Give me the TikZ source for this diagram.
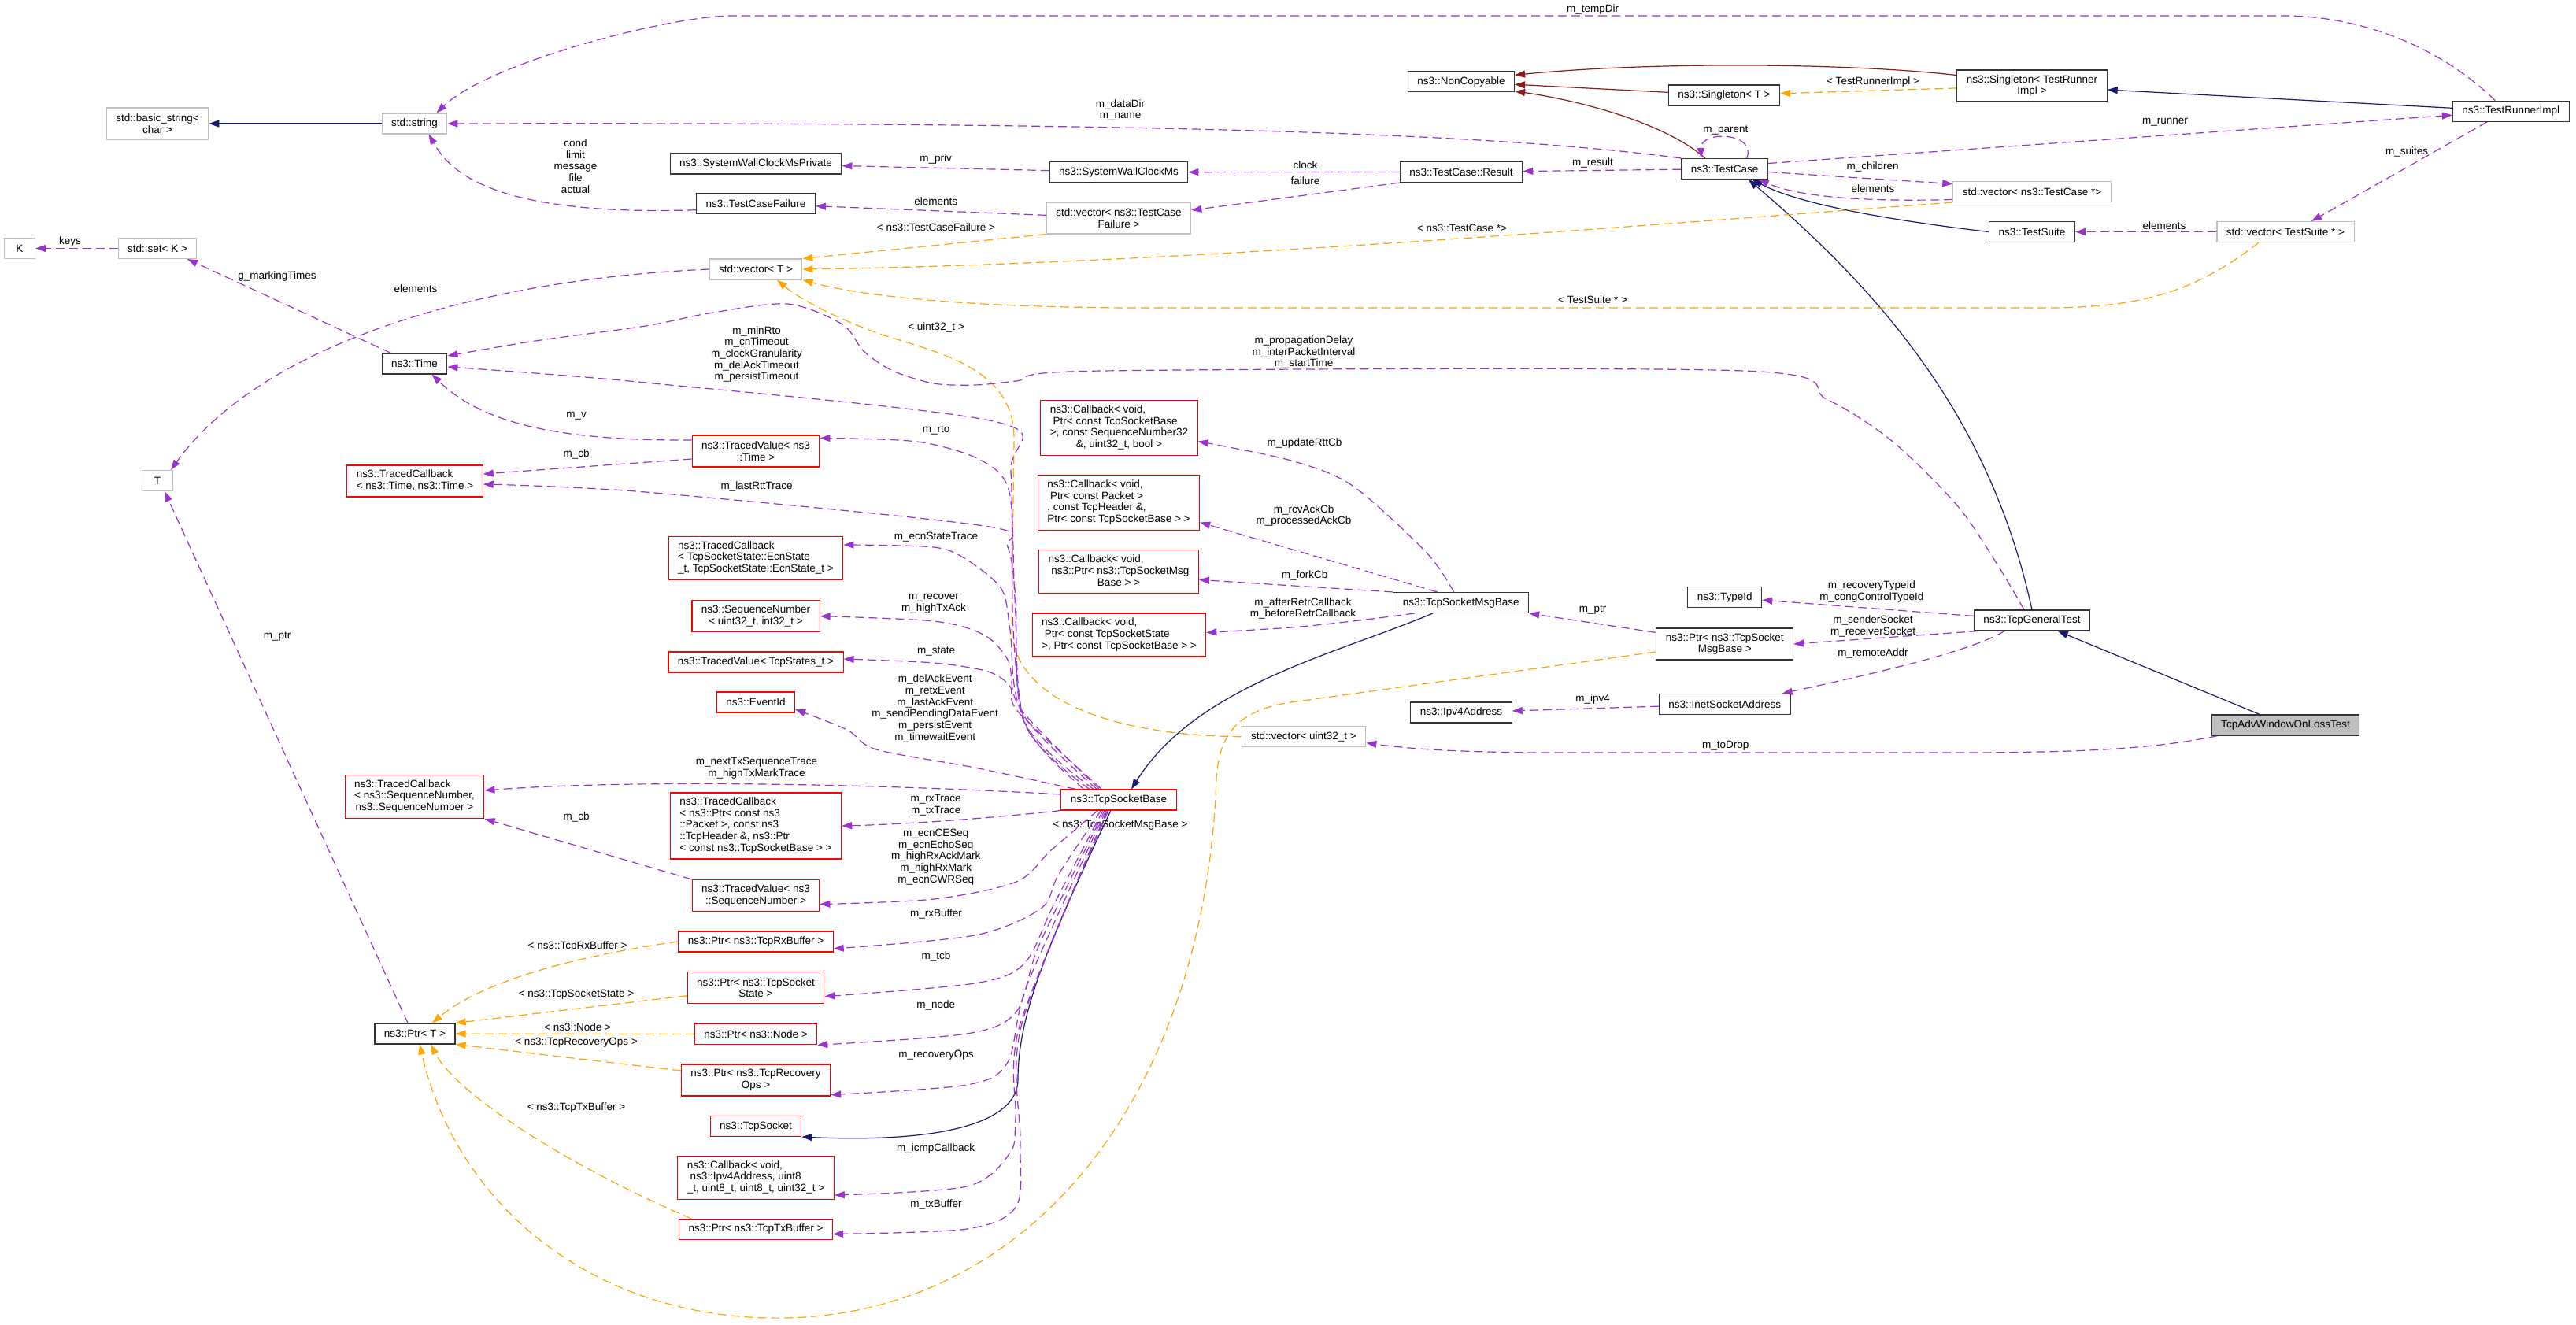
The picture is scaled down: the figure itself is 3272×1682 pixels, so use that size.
\documentclass[tikz,border=0pt]{standalone}
\usepackage{fontspec}
\setmainfont{Liberation Sans}
\usetikzlibrary{arrows.meta,backgrounds}
\definecolor{usecol}{HTML}{9A32CD}
\definecolor{tmplcol}{HTML}{FFA500}
\definecolor{inhcol}{HTML}{191970}
\definecolor{privcol}{HTML}{8B1A1A}
\definecolor{graybox}{HTML}{BFBFBF}
\newcommand{\leftlines}[1]{\begin{tabular}{@{}l@{}}#1\end{tabular}}
\newcommand{\midline}[1]{\multicolumn{1}{@{}c@{}}{#1}}

\begin{document}
\begin{tikzpicture}[x=1pt, y=-1pt,
  cls/.style={rectangle, draw=black!80, line width=1.1pt, fill=white, inner xsep=12pt, inner ysep=2pt,
              minimum height=26pt, font=\fontsize{13.5}{14.7}\selectfont, align=center},
  ext/.style={cls, draw=graybox},
  undoc/.style={cls, draw=red},
  focus/.style={cls, fill=graybox},
  h2/.style={minimum height=40pt},
  h3/.style={minimum height=55pt},
  h4/.style={minimum height=70pt},
  h5/.style={minimum height=84pt},
  lbl/.style={font=\fontsize{13.5}{14.7}\selectfont, align=center, inner sep=0pt},
  usage/.style={usecol, dash pattern=on 11pt off 6pt, line width=1.2pt, -{Triangle[length=13pt,width=9pt]}},
  tmplarrow/.style={usage, tmplcol},
  inherit/.style={inhcol, line width=1.2pt, -{Triangle[length=13pt,width=9pt]}},
  privinh/.style={inherit, privcol},
]
  \useasboundingbox (0,0) rectangle (3272,1682);

  % left columns
  \node[ext, h2] (bstr) at (200,157) {std::basic\_string<\\char >};
  \node[ext] (str) at (526.5,157) {std::string};
  \node[ext, minimum width=39pt] (nk) at (25,315.5) {K};
  \node[ext] (setk) at (200,315.5) {std::set< K >};
  \node[cls] (time) at (526.5,462) {ns3::Time};
  \node[ext, minimum width=39pt] (tt) at (200,610.5) {T};
  \node[undoc, h2] (tcbtime) at (527,611) {\leftlines{ns3::TracedCallback\\\midline{< ns3::Time, ns3::Time >}}};
  \node[undoc, h3] (tcbseq) at (526.5,1012) {\leftlines{ns3::TracedCallback\\< ns3::SequenceNumber,\\\midline{ns3::SequenceNumber >}}};
  \node[cls] (ptrt) at (527,1313) {ns3::Ptr< T >};

  % members of the socket
  \node[cls] (wcpriv) at (960,208) {ns3::SystemWallClockMsPrivate};
  \node[cls] (tcf) at (960,258.7) {ns3::TestCaseFailure};
  \node[ext] (vect) at (960,342) {std::vector< T >};
  \node[undoc, h2] (tvtime) at (960,573) {ns3::TracedValue< ns3\\::Time >};
  \node[undoc, h3] (tcbecn) at (960,709) {\leftlines{ns3::TracedCallback\\< TcpSocketState::EcnState\\\midline{\_t, TcpSocketState::EcnState\_t >}}};
  \node[undoc, h2] (seqnum) at (960,782.6) {ns3::SequenceNumber\\< uint32\_t, int32\_t >};
  \node[undoc] (tvstate) at (960,841) {ns3::TracedValue< TcpStates\_t >};
  \node[undoc] (evid) at (960,892) {ns3::EventId};
  \node[undoc, h5] (tcbpkt) at (960,1049) {\leftlines{ns3::TracedCallback\\< ns3::Ptr< const ns3\\::Packet >, const ns3\\::TcpHeader \&, ns3::Ptr\\\midline{< const ns3::TcpSocketBase > >}}};
  \node[undoc, h2] (tvseq) at (960,1137.5) {ns3::TracedValue< ns3\\::SequenceNumber >};
  \node[undoc] (prx) at (960,1196) {ns3::Ptr< ns3::TcpRxBuffer >};
  \node[undoc, h2] (pstate) at (960,1254.7) {ns3::Ptr< ns3::TcpSocket\\State >};
  \node[undoc] (pnode) at (960,1313.7) {ns3::Ptr< ns3::Node >};
  \node[undoc, h2] (prec) at (960,1372) {ns3::Ptr< ns3::TcpRecovery\\Ops >};
  \node[undoc] (tsock) at (960,1430.5) {ns3::TcpSocket};
  \node[undoc, h3] (cbicmp) at (960,1496) {\leftlines{ns3::Callback< void,\\\ ns3::Ipv4Address, uint8\\\midline{\_t, uint8\_t, uint8\_t, uint32\_t >}}};
  \node[undoc] (ptx) at (960,1561.4) {ns3::Ptr< ns3::TcpTxBuffer >};

  \node[cls] (wc) at (1421,218.7) {ns3::SystemWallClockMs};
  \node[ext, h2] (vectcf) at (1421,277) {std::vector< ns3::TestCase\\Failure >};
  \node[undoc, h4] (cbrtt) at (1421.5,543.6) {\leftlines{ns3::Callback< void,\\\ Ptr< const TcpSocketBase\\>, const SequenceNumber32\\\midline{\&, uint32\_t, bool >}}};
  \node[undoc, h4] (cbrcv) at (1421,638.5) {\leftlines{ns3::Callback< void,\\\ Ptr< const Packet >\\, const TcpHeader \&,\\\midline{Ptr< const TcpSocketBase > >}}};
  \node[undoc, h3] (cbfork) at (1421,726.4) {\leftlines{ns3::Callback< void,\\\ ns3::Ptr< ns3::TcpSocketMsg\\\midline{Base > >}}};
  \node[undoc, h3] (cbretr) at (1421.5,806.5) {\leftlines{ns3::Callback< void,\\\ Ptr< const TcpSocketState\\\midline{>, Ptr< const TcpSocketBase > >}}};
  \node[undoc] (tsb) at (1421,1016) {ns3::TcpSocketBase};
  \node[ext] (vecu) at (1656,935.7) {std::vector< uint32\_t >};

  % test framework
  \node[cls] (noncopy) at (1856,103.7) {ns3::NonCopyable};
  \node[cls] (result) at (1856,218.5) {ns3::TestCase::Result};
  \node[cls] (msgbase) at (1855.7,765.5) {ns3::TcpSocketMsgBase};
  \node[cls] (ipv4) at (1856,905) {ns3::Ipv4Address};
  \node[cls] (single) at (2190,121) {ns3::Singleton< T >};
  \node[cls] (tcase) at (2190.7,214.5) {ns3::TestCase};
  \node[cls] (typeid) at (2190.7,758.6) {ns3::TypeId};
  \node[cls, h2] (pmsg) at (2190.7,818) {ns3::Ptr< ns3::TcpSocket\\MsgBase >};
  \node[cls] (inet) at (2190.7,894.5) {ns3::InetSocketAddress};
  \node[cls, h2] (singtr) at (2581,109) {ns3::Singleton< TestRunner\\Impl >};
  \node[ext] (vectc) at (2581,243.5) {std::vector< ns3::TestCase *>};
  \node[cls] (suite) at (2581,294.5) {ns3::TestSuite};
  \node[cls] (gentest) at (2581,788) {ns3::TcpGeneralTest};
  \node[ext] (vects) at (2903,294.5) {std::vector< TestSuite * >};
  \node[focus] (advtest) at (2903,921) {TcpAdvWindowOnLossTest};
  \node[cls] (runner) at (3189.3,141.2) {ns3::TestRunnerImpl};

  \begin{scope}[on background layer]
  % inheritance
  \draw[inherit] (str) -- (bstr);
  \draw[inherit] (runner) -- (singtr);
  \draw[inherit] (suite.west) .. controls (2420,282) and (2290,262) .. ([xshift=35]tcase.south);
  \draw[inherit] (gentest.north) .. controls (2530,540) and (2400,380) .. ([xshift=30]tcase.south);
  \draw[inherit] (advtest) -- (gentest);
  \draw[inherit] ([xshift=-36]msgbase.south) .. controls (1700,830) and (1520,870) .. ([xshift=16]tsb.north);
  \draw[inherit] ([xshift=-10]tsb.south) .. controls (1330,1200) and (1293,1290) .. (1293,1371)
                 .. controls (1293,1425) and (1200,1452) .. (tsock.south east);
  \draw[privinh] (singtr.172) .. controls (2350,80) and (2100,78) .. (noncopy.7);
  \draw[privinh] (single) -- (noncopy);
  \draw[privinh] ([xshift=-25]tcase.north) .. controls (2120,160) and (2020,130) .. (noncopy.-10);

  % template instances
  \draw[tmplarrow] (singtr) -- (single);
  \node[lbl] (l-tri) at (2379,104) {< TestRunnerImpl >};
  \draw[tmplarrow] (vectcf.south west) -- (vect.north east);
  \node[lbl] (l-tcf) at (1189,288.5) {< ns3::TestCaseFailure >};
  \draw[tmplarrow] (vectc.south west) .. controls (2100,285) and (1500,335) .. (vect.east);
  \node[lbl] (l-tcp) at (1857,290.2) {< ns3::TestCase *>};
  \draw[tmplarrow] ([xshift=-34]vects.south) .. controls (2790,370) and (2720,391) .. (2600,391) -- (1450,391)
                   .. controls (1250,391) and (1100,378) .. (vect.south east);
  \node[lbl] (l-tsp) at (2023,381) {< TestSuite * >};
  \draw[tmplarrow] (vecu.west) .. controls (1440,935) and (1290,900) .. (1285,800) -- (1288,560)
                   .. controls (1290,470) and (1200,450) .. (1120,425) .. controls (1050,400) and (1010,375) .. ([xshift=27]vect.south);
  \node[lbl] (l-u32) at (1189,416) {< uint32\_t >};
  \draw[tmplarrow] (prx.west) .. controls (760,1210) and (620,1240) .. ([xshift=22]ptrt.north);
  \node[lbl] (l-rxb) at (733.6,1202.4) {< ns3::TcpRxBuffer >};
  \draw[tmplarrow] ([yshift=-10]pstate.west) -- (ptrt.north east);
  \node[lbl] (l-sst) at (732,1262.6) {< ns3::TcpSocketState >};
  \draw[tmplarrow] (pnode) -- (ptrt);
  \node[lbl] (l-nod) at (733.6,1304.6) {< ns3::Node >};
  \draw[tmplarrow] ([yshift=12]prec.west) -- (ptrt.south east);
  \node[lbl] (l-rec) at (732,1324.6) {< ns3::TcpRecoveryOps >};
  \draw[tmplarrow] ([xshift=-82]ptx.north) .. controls (720,1480) and (580,1390) .. ([xshift=20]ptrt.south);
  \node[lbl] (l-txb) at (732,1406.7) {< ns3::TcpTxBuffer >};
  \draw[tmplarrow] ([yshift=-10]pmsg.west) -- (1640,892) .. controls (1565,903) and (1548,940) .. (1545,990)
                   .. controls (1530,1400) and (1300,1680) .. (977,1674) .. controls (750,1670) and (580,1530) .. ([xshift=6]ptrt.south);
  \node[lbl] (l-msg) at (1423,1047.7) {< ns3::TcpSocketMsgBase >};

  % usage
  \draw[usage] ([xshift=-20]runner.north) .. controls (3100,60) and (3000,20) .. (2900,20) -- (930,20)
               .. controls (850,20) and (620,80) .. ([xshift=28]str.north);
  \node[lbl] (l-tmp) at (2023,12) {m\_tempDir};
  \draw[usage] (tcase.north west) .. controls (1900,170) and (1500,155) .. (str.east);
  \node[lbl] (l-dir) at (1423,140) {m\_dataDir\\m\_name};
  \draw[usage] ([yshift=-8]tcf.west) .. controls (620,275) and (570,215) .. ([xshift=18]str.south);
  \node[lbl] (l-cond) at (731,211) {cond\\limit\\message\\file\\actual};
  \draw[usage] (wc) -- (wcpriv);
  \node[lbl] (l-priv) at (1188.7,202.4) {m\_priv};
  \draw[usage] (result) -- (wc);
  \node[lbl] (l-clk) at (1658,210) {clock};
  \draw[usage] (result.south west) -- ([yshift=10]vectcf.east);
  \node[lbl] (l-fail) at (1658,230) {failure};
  \draw[usage] (vectcf) -- (tcf);
  \node[lbl] (l-el1) at (1188.7,255.6) {elements};
  \draw[usage] (tcase) -- (result);
  \node[lbl] (l-res) at (2023,207.4) {m\_result};
  \draw[usage] ([xshift=28]tcase.north) .. controls (2232,168) and (2160,165) .. ([xshift=-30]tcase.north);
  \node[lbl] (l-par) at (2191.8,166) {m\_parent};
  \draw[usage] ([yshift=7]tcase.east) -- ([yshift=-5]runner.west);
  \node[lbl] (l-run) at (2750,155.7) {m\_runner};
  \draw[usage] ([yshift=-4]tcase.east) -- ([yshift=10]vectc.west);
  \node[lbl] (l-chi) at (2378.5,212.4) {m\_children};
  \draw[usage] ([yshift=-10]vectc.west) .. controls (2380,256) and (2290,252) .. ([xshift=43]tcase.south);
  \node[lbl] (l-el2) at (2379,240) {elements};
  \draw[usage] ([xshift=-30]runner.south) -- ([xshift=33]vects.north);
  \node[lbl] (l-sui) at (3057,192.8) {m\_suites};
  \draw[usage] (vects) -- (suite);
  \node[lbl] (l-el3) at (2749,286.7) {elements};
  \draw[usage] (setk) -- (nk);
  \node[lbl] (l-key) at (89,307) {keys};
  \draw[usage] ([xshift=-30]time.north) -- ([xshift=38]setk.south);
  \node[lbl] (l-mark) at (352,350.6) {g\_markingTimes};
  \draw[usage] (vect.west) .. controls (600,355) and (330,440) .. ([xshift=17]tt.north);
  \node[lbl] (l-el4) at (528,366.6) {elements};
  \draw[usage] ([yshift=14]tvtime.west) .. controls (700,560) and (610,535) .. ([xshift=22]time.south);
  \node[lbl] (l-mv) at (732,528) {m\_v};
  \draw[usage] ([yshift=-10]tvtime.west) -- ([yshift=9]tcbtime.east);
  \node[lbl] (l-cb1) at (732,577) {m\_cb};
  \draw[usage] (tvseq.north west) -- (tcbseq.south east);
  \node[lbl] (l-cb2) at (732,1038.4) {m\_cb};
  \draw[usage] ([xshift=-9]ptrt.north) -- ([xshift=9]tt.south);
  \node[lbl] (l-ptr1) at (352,809) {m\_ptr};

  % TcpSocketBase members, upwards
  \draw[usage] plot[smooth] coordinates {(tsb.163) (1305,925) (1287,800) (1284,600) (1266,536) (820,486) ([yshift=-4]time.east)};
  \node[lbl] (l-rto) at (961,450) {m\_minRto\\m\_cnTimeout\\m\_clockGranularity\\m\_delAckTimeout\\m\_persistTimeout};
  \draw[usage] plot[smooth] coordinates {(tsb.160) (1302,920) (1289,760) (1282,625) (1245,584) (1165,561) ([yshift=-4]tvtime.north east)};
  \node[lbl] (l-mrto) at (1189,546.6) {m\_rto};
  \draw[usage] plot[smooth] coordinates {(tsb.157) (1300,915) (1290,760) (1280,695) (1250,668) (820,625) ([yshift=-4]tcbtime.east)};
  \node[lbl] (l-rtt) at (961,618) {m\_lastRttTrace};
  \draw[usage] plot[smooth] coordinates {(tsb.154) (1298,905) (1283,800) (1272,748) (1228,711) (1186,695) ([yshift=17]tcbecn.east)};
  \node[lbl] (l-ecn) at (1189,682.5) {m\_ecnStateTrace};
  \draw[usage] plot[smooth] coordinates {(tsb.151) (1296,900) (1281,840) (1249,806) (1186,789) (seqnum.east)};
  \node[lbl] (l-rcv) at (1186,767) {m\_recover\\m\_highTxAck};
  \draw[usage] plot[smooth] coordinates {(tsb.148) (1294,905) (1283,872) (1255,853) (1186,842) ([yshift=4]tvstate.east)};
  \node[lbl] (l-sta) at (1189,827.4) {m\_state};
  \draw[usage] plot[smooth] coordinates {(tsb.166) (1238,975) (1113,952) (1076,927) ([yshift=-9]evid.east)};
  \node[lbl] (l-evt) at (1187.7,900) {m\_delAckEvent\\m\_retxEvent\\m\_lastAckEvent\\m\_sendPendingDataEvent\\m\_persistEvent\\m\_timewaitEvent};
  \draw[usage] ([yshift=7]tsb.west) .. controls (1100,995) and (800,990) .. ([yshift=8]tcbseq.east);
  \node[lbl] (l-ntx) at (961,975.7) {m\_nextTxSequenceTrace\\m\_highTxMarkTrace};
  \draw[usage] (tsb.south west) .. controls (1250,1040) and (1150,1047) .. (tcbpkt.east);
  \node[lbl] (l-rxt) at (1188.7,1023) {m\_rxTrace\\m\_txTrace};

  % TcpSocketBase members, downwards
  \draw[usage] plot[smooth] coordinates {(tsb.-153) (1335,1080) (1291,1120) (1186,1142) ([yshift=-11]tvseq.east)};
  \node[lbl] (l-seq) at (1188.7,1088.4) {m\_ecnCESeq\\m\_ecnEchoSeq\\m\_highRxAckMark\\m\_highRxMark\\m\_ecnCWRSeq};
  \draw[usage] plot[smooth] coordinates {(tsb.-149) (1345,1110) (1322,1154) (1238,1188) ([yshift=-9]prx.east)};
  \node[lbl] (l-rxbuf) at (1189,1160.5) {m\_rxBuffer};
  \draw[usage] plot[smooth] coordinates {(tsb.-146) (1338,1150) (1301,1224) (1238,1249) ([yshift=-11]pstate.east)};
  \node[lbl] (l-tcb) at (1189,1215) {m\_tcb};
  \draw[usage] plot[smooth] coordinates {(tsb.-143) (1320,1200) (1291,1285) (1228,1313) (pnode.south east)};
  \node[lbl] (l-node) at (1188.7,1276.6) {m\_node};
  \draw[usage] plot[smooth] coordinates {(tsb.-140) (1305,1250) (1280,1349) (1228,1378) ([yshift=2]prec.south east)};
  \node[lbl] (l-rops) at (1189,1339.7) {m\_recoveryOps};
  \draw[usage] plot[smooth] coordinates {(tsb.-137) (1296,1300) (1290,1420) (1283,1464) (1228,1507) ([yshift=-22]cbicmp.east)};
  \node[lbl] (l-icmp) at (1188.7,1459.4) {m\_icmpCallback};
  \draw[usage] plot[smooth] coordinates {(tsb.-134) (1298,1300) (1296,1450) (1291,1532) (1228,1561) ([yshift=-6]ptx.east)};
  \node[lbl] (l-txbuf) at (1189,1530.4) {m\_txBuffer};

  % TcpSocketMsgBase callbacks
  \draw[usage] plot[smooth] coordinates {([xshift=-9]msgbase.north) (1812,702) (1718,617) (1640,585) ([yshift=-17]cbrtt.east)};
  \node[lbl] (l-urtt) at (1657,563) {m\_updateRttCb};
  \draw[usage] ([xshift=-30]msgbase.north) -- ([yshift=-25]cbrcv.east);
  \node[lbl] (l-ack) at (1656,655) {m\_rcvAckCb\\m\_processedAckCb};
  \draw[usage] (msgbase.north west) -- ([yshift=-10]cbfork.east);
  \node[lbl] (l-fork) at (1657,731) {m\_forkCb};
  \draw[usage] plot[smooth] coordinates {([xshift=-59]msgbase.south) (1718,789) (1640,797) ([yshift=3]cbretr.east)};
  \node[lbl] (l-retr) at (1655,773) {m\_afterRetrCallback\\m\_beforeRetrCallback};

  % TcpGeneralTest members
  \draw[usage] ([yshift=-6]pmsg.north west) -- (msgbase.south east);
  \node[lbl] (l-ptr2) at (2023,775) {m\_ptr};
  \draw[usage] (inet) -- (ipv4);
  \node[lbl] (l-ipv4) at (2023,888.4) {m\_ipv4};
  \draw[usage] (gentest) -- (typeid);
  \node[lbl] (l-tid) at (2377.4,751.8) {m\_recoveryTypeId\\m\_congControlTypeId};
  \draw[usage] ([xshift=6]gentest.south west) -- (pmsg.east);
  \node[lbl] (l-sock) at (2379,795.5) {m\_senderSocket\\m\_receiverSocket};
  \draw[usage] ([xshift=-35]gentest.south) .. controls (2500,830) and (2350,862) .. ([xshift=-11]inet.north east);
  \node[lbl] (l-addr) at (2379,830) {m\_remoteAddr};
  \draw[usage] plot[smooth] coordinates {([xshift=-10]gentest.north) (2537,717) (2486,642) (2403,560) (2320,507) (2215,471)
               (1400,471) (1291,484) (1238,489) (1186,487) (1134,471) (1097,446) (1070,412) (1000,386) (900,398) (820,414) (680,433) ([yshift=10]time.east)};
  \node[lbl] (l-delay) at (1656,447.7) {m\_propagationDelay\\m\_interPacketInterval\\m\_startTime};
  \draw[usage] ([xshift=-86]advtest.south) .. controls (2720,955) and (2600,956) .. (2460,956) -- (1980,956)
               .. controls (1850,956) and (1790,951) .. ([yshift=-8]vecu.east);
  \node[lbl] (l-drop) at (2191.8,947.3) {m\_toDrop};
  \end{scope}
\end{tikzpicture}
\end{document}
